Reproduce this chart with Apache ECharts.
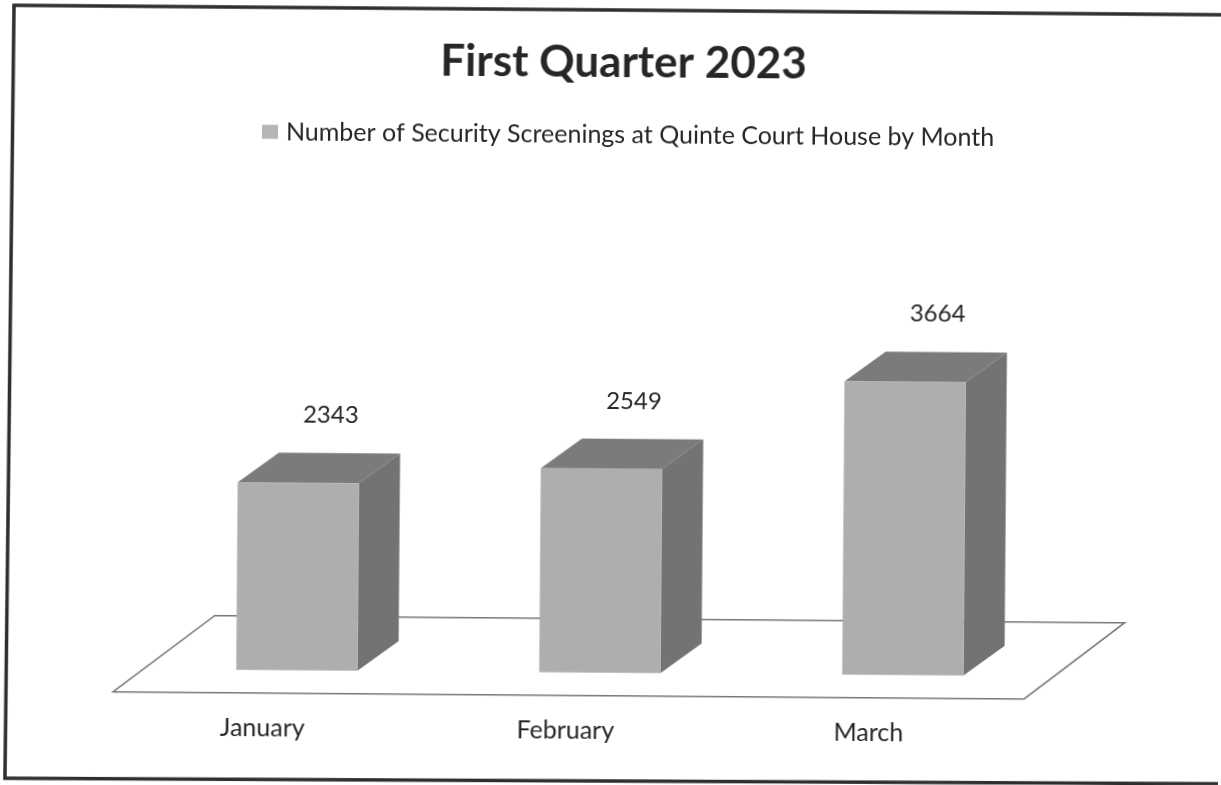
<!DOCTYPE html>
<html>
<head>
<meta charset="utf-8">
<title>First Quarter 2023</title>
<script src="https://cdn.jsdelivr.net/npm/echarts@6/dist/echarts.min.js"></script>
<style>
	html, body { margin: 0; padding: 0; background: #fff; overflow: hidden; }
	/* the source is a slightly crooked scan */
	#main { width: 1221px; height: 785px; transform: rotate(0.45deg); filter: blur(0.35px); }
</style>
</head>
<body>
<div id="main"></div>
<script>
var titleText = 'First Quarter 2023';
var seriesName = 'Number of Security Screenings at Quinte Court House by Month';
var months = ['January', 'February', 'March'];
var screenings = [2343, 2549, 3664];

var fontName = 'Lato';
var textColor = '#262626';

var myChart = echarts.init(document.getElementById('main'));

// the floor under the bars, offsets are from the plot area
function renderFloor(params, api) {
	var area = params.coordSys;
	var bottom = area.y + area.height;
	var right = area.x + area.width;
	return {
		type: 'polygon',
		shape: {
			points: [
				[area.x - 32, bottom + 23],
				[area.x + 69, bottom - 54],
				[right + 70, bottom - 54],
				[right - 30, bottom + 23]
			]
		},
		style: { fill: '#fff', stroke: '#777', lineWidth: 1.5 }
	};
}

// one box: front, top and side faces, plus its value above
function renderBox(params, api) {
	var idx = api.value(0);
	var val = api.value(1);
	var top = api.coord([idx, val]);
	var base = api.coord([idx, 0]);
	var w = api.size([1, 0])[0] * 0.4;
	var dx = 41, dy = 30;
	var l = top[0] - w / 2, r = top[0] + w / 2;
	return {
		type: 'group',
		children: [
			{
				type: 'polygon',
				shape: { points: [[l, top[1]], [l + dx, top[1] - dy], [r + dx, top[1] - dy], [r, top[1]]] },
				style: { fill: '#7b7b7b' }
			},
			{
				type: 'polygon',
				shape: { points: [[r, top[1]], [r + dx, top[1] - dy], [r + dx, base[1] - dy], [r, base[1]]] },
				style: { fill: '#737373' }
			},
			{
				type: 'rect',
				shape: { x: l, y: top[1], width: w, height: base[1] - top[1] },
				style: { fill: '#aeaeae' }
			},
			{
				type: 'text',
				x: top[0] + 32,
				y: top[1] - 68,
				style: {
					text: String(val),
					font: '24px ' + fontName,
					fill: textColor,
					align: 'center',
					verticalAlign: 'middle'
				}
			}
		]
	};
}

var boxData = [];
for (var i = 0; i < screenings.length; i++) {
	boxData.push([i, screenings[i]]);
}

var option = {
	animation: false,
	backgroundColor: '#fff',
	textStyle: { fontFamily: fontName },
	title: {
		text: titleText,
		left: 616,
		top: 36,
		textAlign: 'center',
		textStyle: { fontFamily: fontName, fontSize: 44, fontWeight: 'bold', color: textColor }
	},
	legend: {
		left: 260,
		top: 122,
		padding: 0,
		itemWidth: 16,
		itemHeight: 14,
		itemGap: 8,
		selectedMode: false,
		icon: 'rect',
		data: [seriesName],
		textStyle: { fontFamily: fontName, fontSize: 25, color: textColor, padding: [0, 0, 0, 3] }
	},
	grid: { left: 147.5, top: 352.7, width: 909, height: 320 },
	xAxis: {
		type: 'category',
		data: months,
		axisLine: { show: false },
		axisTick: { show: false },
		axisLabel: {
			fontFamily: fontName,
			fontSize: 25,
			color: textColor,
			margin: 46,
			padding: [0, 68, 0, 0]
		}
	},
	yAxis: { type: 'value', min: 0, max: 4000, show: false, splitLine: { show: false } },
	graphic: [{
		type: 'polyline',
		shape: { points: [[1225, 10], [11, 10], [8, 783], [1225, 779]] },
		style: { fill: null, stroke: '#2e2e2e', lineWidth: 3.5 },
		silent: true
	}],
	series: [
		{
			type: 'custom',
			name: 'floor',
			z: 1,
			silent: true,
			data: [[0, 0]],
			renderItem: renderFloor
		},
		{
			type: 'custom',
			name: seriesName,
			z: 2,
			itemStyle: { color: '#b5b5b5' },
			encode: { x: 0, y: 1 },
			data: boxData,
			renderItem: renderBox
		}
	]
};

myChart.setOption(option);
</script>
</body>
</html>
